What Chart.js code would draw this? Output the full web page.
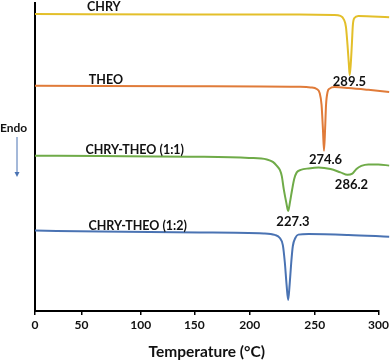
<!DOCTYPE html>
<html>
<head>
<meta charset="utf-8">
<script src="https://cdn.jsdelivr.net/npm/chart.js@4.4.1/dist/chart.umd.min.js"></script>
<style>
  html, body { margin: 0; padding: 0; background: #fff; }
  #wrap { width: 392px; height: 361px; position: relative; }
</style>
</head>
<body>
<div id="wrap"><canvas id="dscChart"></canvas></div>
<script>
// temperature (°C) and heat flow (arbitrary units, endo down)
const chryTemp = [0, 145, 238, 264.8, 270.2, 272.9, 274.5, 275.7, 276.8, 277.4, 278.2, 279.2, 279.9, 281.1, 284.2, 308.3];
const chryFlow = [96.4, 96.3, 96.3, 96.1, 95.8, 94.6, 92.2, 86.4, 79.9, 76.6, 79.9, 87.3, 92.9, 95.1, 95.8, 95.4];

const theoTemp = [0, 145.4, 237.7, 246.9, 251.6, 253.9, 255.4, 256.5, 257.3, 258.2, 258.9, 260.1, 261.7, 265.6, 276.4, 292.0, 308.3];
const theoFlow = [73.1, 73.0, 72.8, 72.6, 72.1, 70.8, 66.9, 58.8, 52.0, 59.4, 66.9, 71.1, 72.2, 72.7, 72.4, 71.8, 71.1];

const mix11Temp = [0, 65.7, 145.4, 199.4, 213.2, 217.8, 220.9, 223.2, 224.7, 226.3, 228.2, 229.6, 230.9, 232.6, 234.3, 236.2, 239.3, 245.4, 253.1, 262.4, 270.2, 275.7, 279.5, 282.7, 286.5, 292.0, 299.8, 308.3];
const mix11Flow = [50.4, 50.3, 50.1, 49.7, 49.2, 48.4, 47.1, 45.8, 43.8, 39.3, 35.1, 32.5, 35.1, 39.3, 42.9, 45.0, 45.8, 46.3, 46.6, 46.1, 45.0, 44.2, 44.6, 46.1, 47.1, 47.6, 47.6, 47.2];

const mix12Temp = [0, 65.7, 154.5, 210.9, 219.3, 223.2, 225.5, 227.0, 228.4, 229.6, 230.7, 232.0, 233.2, 235.1, 237.4, 245.4, 276.4, 308.3];
const mix12Flow = [26.1, 25.8, 25.5, 25.2, 24.7, 23.7, 21.4, 15.9, 8.4, 3.6, 8.4, 15.9, 21.1, 23.7, 24.8, 25.0, 24.7, 24.1];

const seriesNames = ["CHRY", "THEO", "CHRY-THEO (1:1)", "CHRY-THEO (1:2)"];
const peakLabels = ["289.5", "274.6", "286.2", "227.3"];
const xTicks = [0, 50, 100, 150, 200, 250, 300];

// where the printed ticks sit along the axis (the original axis is not evenly spaced)
const tickFractions = [0, 0.135, 0.3076, 0.4638, 0.625, 0.814, 1];

// label anchors in data units [temp, flow]
const nameSpots = [[69.0, 98.7], [70.7, 75.0], [95.0, 52.3], [97.5, 27.6]];
const peakSpots = [[277.2, 74.4], [258.5, 49.0], [278.8, 40.9], [233.3, 28.9]];

const colors = ["#e3bf2a", "#e07b39", "#6fab48", "#4a73b3"];

function toXY(xs, ys) {
    return xs.map((x, i) => ({ x: x, y: ys[i] }));
}

class PiecewiseScale extends Chart.LinearScale {
    fracFor(value) {
        const n = xTicks.length;
        let i = 0;
        if (value >= xTicks[n - 1]) i = n - 2;
        else while (i < n - 2 && value > xTicks[i + 1]) i++;
        const t = (value - xTicks[i]) / (xTicks[i + 1] - xTicks[i]);
        return tickFractions[i] + t * (tickFractions[i + 1] - tickFractions[i]);
    }
    getPixelForValue(value) {
        if (value === null || value === undefined) return NaN;
        return this.getPixelForDecimal(this.fracFor(value));
    }
    getValueForPixel(pixel) {
        const f = this.getDecimalForPixel(pixel);
        const n = xTicks.length;
        let i = 0;
        while (i < n - 2 && f > tickFractions[i + 1]) i++;
        const t = (f - tickFractions[i]) / (tickFractions[i + 1] - tickFractions[i]);
        return xTicks[i] + t * (xTicks[i + 1] - xTicks[i]);
    }
}
PiecewiseScale.id = "piecewise";
PiecewiseScale.defaults = {};
Chart.register(PiecewiseScale);

const labelPlugin = {
    id: "dscLabels",
    afterDatasetsDraw(chart) {
        const ctx = chart.ctx;
        const xs = chart.scales.x, ys = chart.scales.y;
        ctx.save();
        ctx.fillStyle = "#111";
        ctx.textAlign = "center";
        ctx.textBaseline = "middle";
        ctx.font = "bold 12.5px Lato";
        seriesNames.forEach((name, i) => {
            ctx.fillText(name, xs.getPixelForValue(nameSpots[i][0]), ys.getPixelForValue(nameSpots[i][1]));
        });
        ctx.font = "bold 13px Lato";
        peakLabels.forEach((txt, i) => {
            ctx.fillText(txt, xs.getPixelForValue(peakSpots[i][0]), ys.getPixelForValue(peakSpots[i][1]));
        });

        // Endo marker
        const left = chart.chartArea.left;
        ctx.font = "bold 12px Lato";
        ctx.fillText("Endo", left - 21.5, 128);
        ctx.strokeStyle = "#4a73b3";
        ctx.fillStyle = "#4a73b3";
        ctx.lineWidth = 1;
        ctx.beginPath();
        ctx.moveTo(left - 18, 137);
        ctx.lineTo(left - 18, 173);
        ctx.stroke();
        ctx.beginPath();
        ctx.moveTo(left - 20.5, 172);
        ctx.lineTo(left - 15.5, 172);
        ctx.lineTo(left - 18, 177);
        ctx.closePath();
        ctx.fill();
        ctx.restore();
    }
};

const datasets = [
    toXY(chryTemp, chryFlow),
    toXY(theoTemp, theoFlow),
    toXY(mix11Temp, mix11Flow),
    toXY(mix12Temp, mix12Flow)
].map((pts, i) => ({
    label: seriesNames[i],
    data: pts,
    borderColor: colors[i],
    borderWidth: 2,
    pointRadius: 0,
    cubicInterpolationMode: "monotone",
    clip: false,
    fill: false
}));

new Chart(document.getElementById("dscChart"), {
    type: "line",
    data: { datasets: datasets },
    options: {
        responsive: true,
        maintainAspectRatio: false,
        animation: false,
        layout: { padding: { left: 27, right: 11, top: 3, bottom: 0 } },
        plugins: {
            legend: { display: false },
            tooltip: { enabled: false }
        },
        scales: {
            x: {
                type: "piecewise",
                min: 0,
                max: 300,
                afterBuildTicks: (axis) => { axis.ticks = xTicks.map(v => ({ value: v })); },
                grid: { display: true, drawOnChartArea: false, drawTicks: true, tickLength: 4, color: "#000", lineWidth: 1.5 },
                border: { display: true, color: "#000", width: 2 },
                ticks: { color: "#111", font: { family: "Lato", weight: "bold", size: 12 }, padding: 3, maxRotation: 0 },
                title: { display: true, text: "Temperature (°C)", color: "#111", font: { family: "Lato", weight: "bold", size: 15.5 }, padding: { top: 7, bottom: 0 } }
            },
            y: {
                min: 0,
                max: 100,
                grid: { display: false },
                border: { display: true, color: "#000", width: 2 },
                ticks: { display: false }
            }
        }
    },
    plugins: [labelPlugin]
});
</script>
</body>
</html>
